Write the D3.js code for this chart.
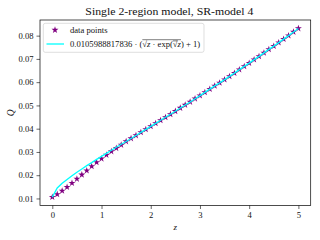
<!DOCTYPE html>
<html>
<head>
<meta charset="utf-8">
<script src="https://cdn.jsdelivr.net/npm/d3@7"></script>
<style>
	body { margin: 0; background: #fff; }
	svg text { font-family: 'Liberation Serif', 'DejaVu Serif', serif; fill: #111; }
</style>
</head>
<body>
<svg id="chart" width="320" height="240"></svg>
<script>
// z grid shared by the data points and the fitted curve.
const zValues = [
	0.0, 0.1, 0.2, 0.3, 0.4, 0.5, 0.6, 0.7, 0.8, 0.9,
	1.0, 1.1, 1.2, 1.3, 1.4, 1.5, 1.6, 1.7, 1.8, 1.9,
	2.0, 2.1, 2.2, 2.3, 2.4, 2.5, 2.6, 2.7, 2.8, 2.9,
	3.0, 3.1, 3.2, 3.3, 3.4, 3.5, 3.6, 3.7, 3.8, 3.9,
	4.0, 4.1, 4.2, 4.3, 4.4, 4.5, 4.6, 4.7, 4.8, 4.9, 5.0
];

// Measured Q values (purple stars).
const dataQ = [
	0.0106, 0.0118, 0.0133, 0.0149, 0.0166, 0.0184, 0.0202, 0.0220, 0.0238, 0.0255,
	0.0271, 0.0287, 0.0302, 0.0316, 0.0330, 0.0345, 0.0358, 0.0371, 0.0384, 0.0397,
	0.0410, 0.0423, 0.0436, 0.0449, 0.0462, 0.0475, 0.0489, 0.0502, 0.0515, 0.0529,
	0.0542, 0.0556, 0.0570, 0.0584, 0.0597, 0.0611, 0.0625, 0.0639, 0.0654, 0.0668,
	0.0682, 0.0697, 0.0711, 0.0726, 0.0741, 0.0755, 0.0770, 0.0785, 0.0800, 0.0816, 0.0831
];

// Fitted curve (cyan line).
const fitQ = [
	0.0106, 0.0145, 0.0165, 0.0182, 0.0198, 0.0213, 0.0227, 0.0241, 0.0254, 0.0268,
	0.0281, 0.0294, 0.0307, 0.0320, 0.0333, 0.0345, 0.0358, 0.0371, 0.0384, 0.0397,
	0.0410, 0.0423, 0.0436, 0.0449, 0.0462, 0.0475, 0.0489, 0.0502, 0.0515, 0.0529,
	0.0542, 0.0556, 0.0570, 0.0584, 0.0597, 0.0611, 0.0625, 0.0639, 0.0654, 0.0668,
	0.0682, 0.0697, 0.0711, 0.0726, 0.0741, 0.0755, 0.0770, 0.0785, 0.0800, 0.0816, 0.0831
];

const xTicks = [0, 1, 2, 3, 4, 5];
const yTicks = [0.01, 0.02, 0.03, 0.04, 0.05, 0.06, 0.07, 0.08];

const titleText = 'Single 2-region model, SR-model 4';
const fitCoefText = '0.0105988817836';

const serif = "'Liberation Serif', 'DejaVu Serif', serif";

const margin = { top: 20, right: 9.3, bottom: 34.5, left: 40 };
const width = 320;
const height = 240;

const svg = d3.select('#chart');

// Matplotlib style 5% margins around the data range.
const zPad = (d3.max(zValues) - d3.min(zValues)) * 0.05;
const qMin = Math.min(d3.min(dataQ), d3.min(fitQ));
const qMax = Math.max(d3.max(dataQ), d3.max(fitQ));
const qPad = (qMax - qMin) * 0.05;

const x = d3
	.scaleLinear()
	.domain([d3.min(zValues) - zPad, d3.max(zValues) + zPad])
	.range([margin.left, width - margin.right]);

const y = d3
	.scaleLinear()
	.domain([qMin - qPad, qMax + qPad])
	.range([height - margin.bottom, margin.top]);

// Axes.
const xAxis = svg
	.append('g')
	.attr('transform', `translate(0,${height - margin.bottom})`)
	.call(d3.axisBottom(x).tickValues(xTicks).tickSize(3.5).tickPadding(2.5).tickFormat(d3.format('d')));

const yAxis = svg
	.append('g')
	.attr('transform', `translate(${margin.left},0)`)
	.call(d3.axisLeft(y).tickValues(yTicks).tickSize(3.5).tickPadding(3).tickFormat(d3.format('.2f')));

[xAxis, yAxis].forEach(axis => {
	axis.select('.domain').remove();
	axis.selectAll('line').attr('stroke', '#000').attr('stroke-width', 0.6);
	axis.selectAll('text').attr('font-family', serif).attr('font-size', 8.6).attr('fill', '#222');
});

// Frame.
svg
	.append('rect')
	.attr('x', margin.left)
	.attr('y', margin.top)
	.attr('width', width - margin.left - margin.right)
	.attr('height', height - margin.top - margin.bottom)
	.attr('fill', 'none')
	.attr('stroke', '#000')
	.attr('stroke-width', 0.7);

// Data points first, fitted line drawn over them.
const star = d3.symbol().type(d3.symbolStar).size(15);

svg
	.append('g')
	.selectAll('path')
	.data(dataQ)
	.join('path')
	.attr('d', star)
	.attr('transform', (d, i) => `translate(${x(zValues[i])},${y(d)})`)
	.attr('fill', '#800080');

const line = d3
	.line()
	.x((d, i) => x(zValues[i]))
	.y(d => y(d));

svg.append('path').datum(fitQ).attr('d', line).attr('fill', 'none').attr('stroke', '#00ffff').attr('stroke-width', 1.3);

// Title and axis labels.
svg
	.append('text')
	.attr('x', (margin.left + width - margin.right) / 2 - 6)
	.attr('y', 15)
	.attr('text-anchor', 'middle')
	.attr('font-family', serif)
	.attr('font-size', 11)
	.attr('fill', '#222')
	.attr('textLength', 168)
	.attr('lengthAdjust', 'spacingAndGlyphs')
	.text(titleText);

svg
	.append('text')
	.attr('x', (margin.left + width - margin.right) / 2)
	.attr('y', 230)
	.attr('text-anchor', 'middle')
	.attr('font-family', serif)
	.attr('font-size', 9)
	.attr('font-style', 'italic')
	.text('z');

svg
	.append('text')
	.attr('transform', `translate(14,${(margin.top + height - margin.bottom) / 2}) rotate(-90)`)
	.attr('text-anchor', 'middle')
	.attr('font-family', serif)
	.attr('font-size', 9.5)
	.attr('font-style', 'italic')
	.text('Q');

// Legend.
const legend = svg.append('g');

legend
	.append('rect')
	.attr('x', 43.3)
	.attr('y', 23.3)
	.attr('width', 160.7)
	.attr('height', 29)
	.attr('rx', 2)
	.attr('fill', '#fff')
	.attr('fill-opacity', 0.8)
	.attr('stroke', '#d0d0d0')
	.attr('stroke-width', 0.7);

legend.append('path').attr('d', star).attr('transform', 'translate(55,30)').attr('fill', '#800080');

legend
	.append('text')
	.attr('x', 70)
	.attr('y', 32.5)
	.attr('font-family', serif)
	.attr('font-size', 8.6)
	.text('data points');

legend
	.append('line')
	.attr('x1', 46.5)
	.attr('x2', 64)
	.attr('y1', 44)
	.attr('y2', 44)
	.attr('stroke', '#00ffff')
	.attr('stroke-width', 1.3);

const formula = legend.append('text').attr('x', 70).attr('y', 47.3).attr('font-family', serif).attr('font-size', 8.6);

const parts = [
	{ t: `${fitCoefText} · (√` },
	{ t: 'z', italic: true },
	{ t: ' · exp(√' },
	{ t: 'z', italic: true },
	{ t: ') + 1)' }
];

parts.forEach(p => {
	formula
		.append('tspan')
		.attr('font-style', p.italic ? 'italic' : null)
		.text(p.t);
});

// Radical overlines, placed from measured glyph positions.
const node = formula.node();
const outerStart = fitCoefText.length + 4;
const innerZ = outerStart + 9;
const overlines = [
	[outerStart, innerZ + 1, 47.3 - 7.6],
	[innerZ, innerZ, 47.3 - 6.4]
];

overlines.forEach(([a, b, yy]) => {
	legend
		.append('line')
		.attr('x1', node.getStartPositionOfChar(a).x)
		.attr('x2', node.getEndPositionOfChar(b).x)
		.attr('y1', yy)
		.attr('y2', yy)
		.attr('stroke', '#000')
		.attr('stroke-width', 0.5);
});
</script>
</body>
</html>
